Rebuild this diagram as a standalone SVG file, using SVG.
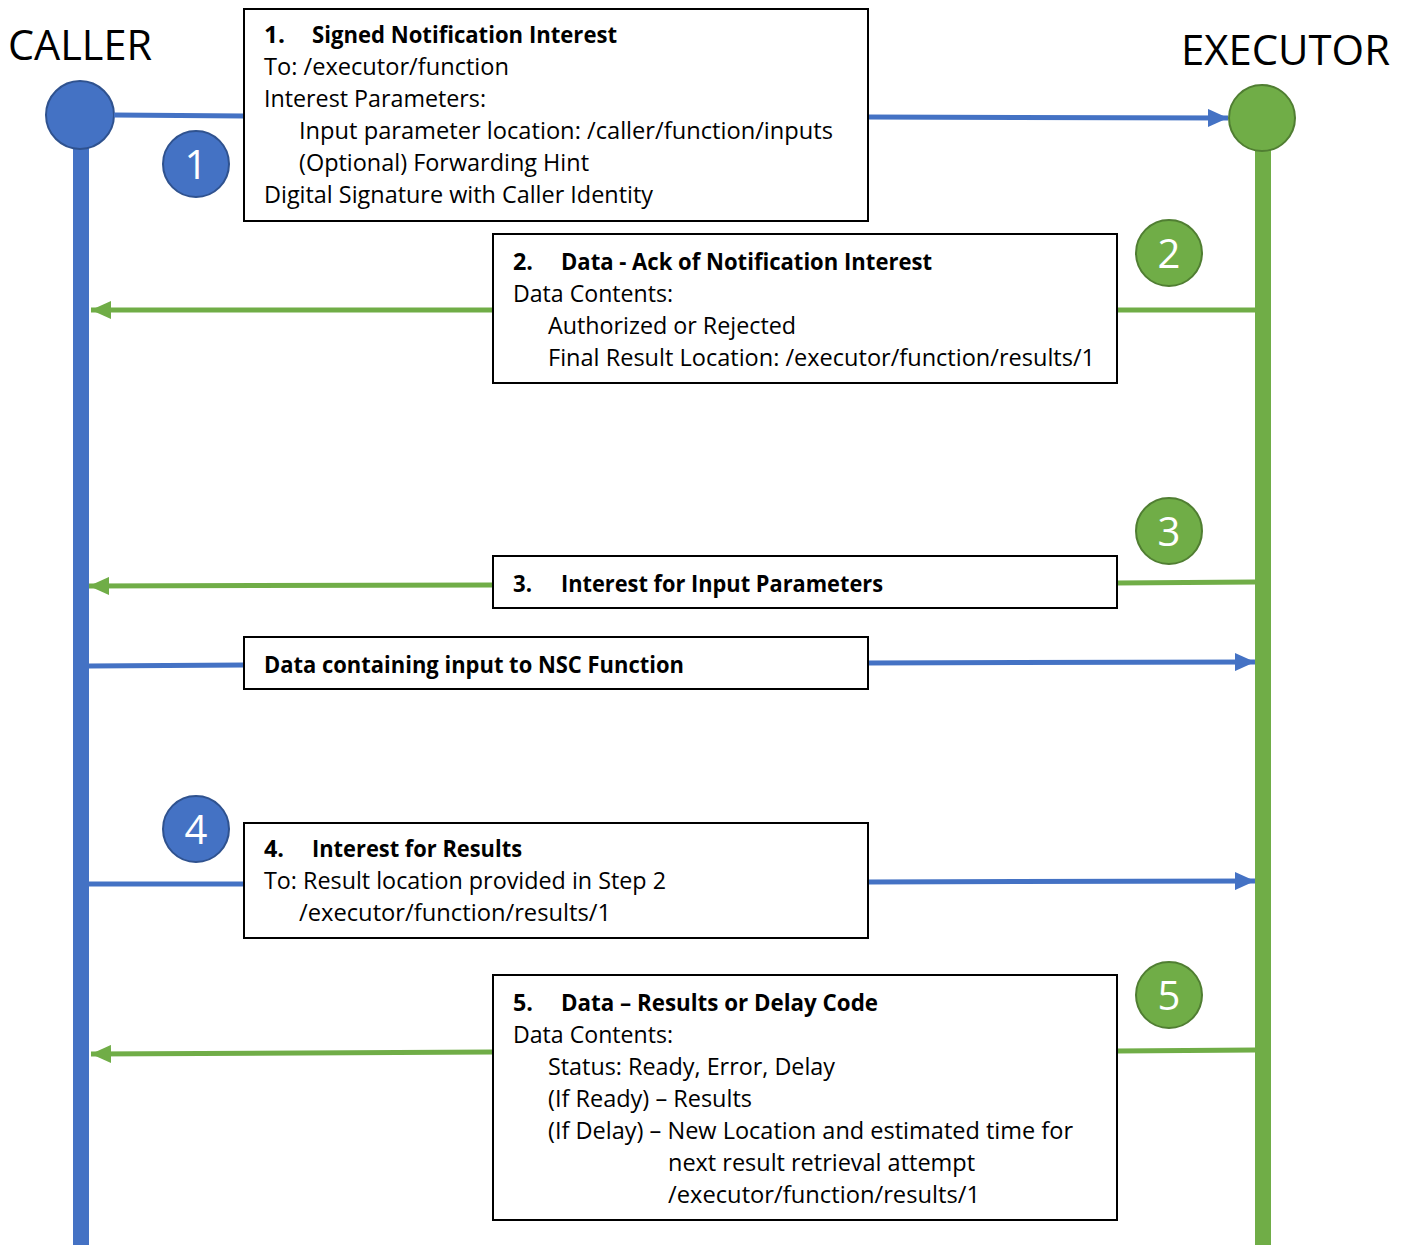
<svg xmlns="http://www.w3.org/2000/svg" width="1408" height="1245" viewBox="0 0 1408 1245">
  <style>
    .lbl { font-family: "Open Sans", "Noto Sans", "Liberation Sans", sans-serif; font-size: 23px; fill: #000; }
    .b { font-weight: bold; }
    .head { font-family: "Open Sans", "Noto Sans", "Liberation Sans", sans-serif; font-size: 42px; fill: #000; }
    .num { font-family: "Open Sans", "Noto Sans", "Liberation Sans", sans-serif; font-size: 40px; fill: #fff; text-anchor: middle; }
    .box { fill: #fff; stroke: #000; stroke-width: 2; }
    .blue { stroke: #4472C4; stroke-width: 5; fill: none; }
    .green { stroke: #70AD47; stroke-width: 5; fill: none; }
    .cb { fill: #4472C4; stroke: #2F528F; stroke-width: 2; }
    .cg { fill: #70AD47; stroke: #507E32; stroke-width: 2; }
  </style>
  <defs>
    <marker id="ahBlue" markerUnits="userSpaceOnUse" markerWidth="20" markerHeight="18" refX="20" refY="9" orient="auto">
      <path d="M0,0 L20,9 L0,18 z" fill="#4472C4"/>
    </marker>
    <marker id="ahGreen" markerUnits="userSpaceOnUse" markerWidth="20" markerHeight="18" refX="20" refY="9" orient="auto">
      <path d="M0,0 L20,9 L0,18 z" fill="#70AD47"/>
    </marker>
  </defs>

  <rect width="1408" height="1245" fill="#fff"/>

  <!-- lifelines -->
  <g id="caller">
    <rect x="73" y="140" width="16" height="1105" fill="#4472C4"/>
    <circle class="cb" cx="80" cy="115" r="34"/>
    <text class="head" x="8" y="60" textLength="144" lengthAdjust="spacingAndGlyphs">CALLER</text>
  </g>
  <g id="executor">
    <rect x="1255" y="140" width="16" height="1105" fill="#70AD47"/>
    <circle class="cg" cx="1262" cy="118" r="33"/>
    <text class="head" x="1181" y="65" textLength="209" lengthAdjust="spacingAndGlyphs">EXECUTOR</text>
  </g>

  <!-- message connectors -->
  <g id="connectors">
    <line class="blue" x1="114" y1="115" x2="244" y2="116"/>
    <line class="blue" x1="868" y1="117" x2="1228" y2="118" marker-end="url(#ahBlue)"/>

    <line class="green" x1="1255" y1="310" x2="1117" y2="310"/>
    <line class="green" x1="493" y1="310" x2="91" y2="310" marker-end="url(#ahGreen)"/>

    <line class="green" x1="1255" y1="582" x2="1117" y2="583"/>
    <line class="green" x1="493" y1="585" x2="89" y2="586" marker-end="url(#ahGreen)"/>

    <line class="blue" x1="89" y1="666" x2="244" y2="665"/>
    <line class="blue" x1="868" y1="663" x2="1255" y2="662" marker-end="url(#ahBlue)"/>

    <line class="blue" x1="89" y1="884" x2="244" y2="884"/>
    <line class="blue" x1="868" y1="882" x2="1255" y2="881" marker-end="url(#ahBlue)"/>

    <line class="green" x1="1255" y1="1050" x2="1117" y2="1051"/>
    <line class="green" x1="493" y1="1052" x2="91" y2="1054" marker-end="url(#ahGreen)"/>
  </g>

  <!-- step badges -->
  <g id="badge1"><circle class="cb" cx="196" cy="164" r="33"/><text class="num" x="196" y="179">1</text></g>
  <g id="badge2"><circle class="cg" cx="1169" cy="253" r="33"/><text class="num" x="1169" y="268">2</text></g>
  <g id="badge3"><circle class="cg" cx="1169" cy="531" r="33"/><text class="num" x="1169" y="546">3</text></g>
  <g id="badge4"><circle class="cb" cx="196" cy="829" r="33"/><text class="num" x="196" y="844">4</text></g>
  <g id="badge5"><circle class="cg" cx="1169" cy="995" r="33"/><text class="num" x="1169" y="1010">5</text></g>

  <!-- message boxes -->
  <g id="msg1">
    <rect class="box" x="244" y="9" width="624" height="212"/>
    <text class="lbl b" x="264" y="43" textLength="21" lengthAdjust="spacingAndGlyphs">1.</text>
    <text class="lbl b" x="312" y="43" textLength="305" lengthAdjust="spacingAndGlyphs">Signed Notification Interest</text>
    <text class="lbl" x="264" y="75" textLength="245" lengthAdjust="spacingAndGlyphs">To: /executor/function</text>
    <text class="lbl" x="264" y="107" textLength="222" lengthAdjust="spacingAndGlyphs">Interest Parameters:</text>
    <text class="lbl" x="299" y="139" textLength="534" lengthAdjust="spacingAndGlyphs">Input parameter location: /caller/function/inputs</text>
    <text class="lbl" x="299" y="171" textLength="290" lengthAdjust="spacingAndGlyphs">(Optional) Forwarding Hint</text>
    <text class="lbl" x="264" y="203" textLength="389" lengthAdjust="spacingAndGlyphs">Digital Signature with Caller Identity</text>
  </g>

  <g id="msg2">
    <rect class="box" x="493" y="234" width="624" height="149"/>
    <text class="lbl b" x="513" y="270" textLength="20" lengthAdjust="spacingAndGlyphs">2.</text>
    <text class="lbl b" x="561" y="270" textLength="371" lengthAdjust="spacingAndGlyphs">Data - Ack of Notification Interest</text>
    <text class="lbl" x="513" y="302" textLength="160" lengthAdjust="spacingAndGlyphs">Data Contents:</text>
    <text class="lbl" x="548" y="334" textLength="248" lengthAdjust="spacingAndGlyphs">Authorized or Rejected</text>
    <text class="lbl" x="548" y="366" textLength="547" lengthAdjust="spacingAndGlyphs">Final Result Location: /executor/function/results/1</text>
  </g>

  <g id="msg3">
    <rect class="box" x="493" y="556" width="624" height="52"/>
    <text class="lbl b" x="513" y="592" textLength="19" lengthAdjust="spacingAndGlyphs">3.</text>
    <text class="lbl b" x="561" y="592" textLength="322" lengthAdjust="spacingAndGlyphs">Interest for Input Parameters</text>
  </g>

  <g id="msgData">
    <rect class="box" x="244" y="637" width="624" height="52"/>
    <text class="lbl b" x="264" y="673" textLength="420" lengthAdjust="spacingAndGlyphs">Data containing input to NSC Function</text>
  </g>

  <g id="msg4">
    <rect class="box" x="244" y="823" width="624" height="115"/>
    <text class="lbl b" x="264" y="857" textLength="20" lengthAdjust="spacingAndGlyphs">4.</text>
    <text class="lbl b" x="312" y="857" textLength="210" lengthAdjust="spacingAndGlyphs">Interest for Results</text>
    <text class="lbl" x="264" y="889" textLength="402" lengthAdjust="spacingAndGlyphs">To: Result location provided in Step 2</text>
    <text class="lbl" x="299" y="921" textLength="312" lengthAdjust="spacingAndGlyphs">/executor/function/results/1</text>
  </g>

  <g id="msg5">
    <rect class="box" x="493" y="975" width="624" height="245"/>
    <text class="lbl b" x="513" y="1011" textLength="20" lengthAdjust="spacingAndGlyphs">5.</text>
    <text class="lbl b" x="561" y="1011" textLength="317" lengthAdjust="spacingAndGlyphs">Data – Results or Delay Code</text>
    <text class="lbl" x="513" y="1043" textLength="160" lengthAdjust="spacingAndGlyphs">Data Contents:</text>
    <text class="lbl" x="548" y="1075" textLength="287" lengthAdjust="spacingAndGlyphs">Status: Ready, Error, Delay</text>
    <text class="lbl" x="548" y="1107" textLength="204" lengthAdjust="spacingAndGlyphs">(If Ready) – Results</text>
    <text class="lbl" x="548" y="1139" textLength="525" lengthAdjust="spacingAndGlyphs">(If Delay) – New Location and estimated time for</text>
    <text class="lbl" x="668" y="1171" textLength="307" lengthAdjust="spacingAndGlyphs">next result retrieval attempt</text>
    <text class="lbl" x="668" y="1203" textLength="312" lengthAdjust="spacingAndGlyphs">/executor/function/results/1</text>
  </g>
</svg>
